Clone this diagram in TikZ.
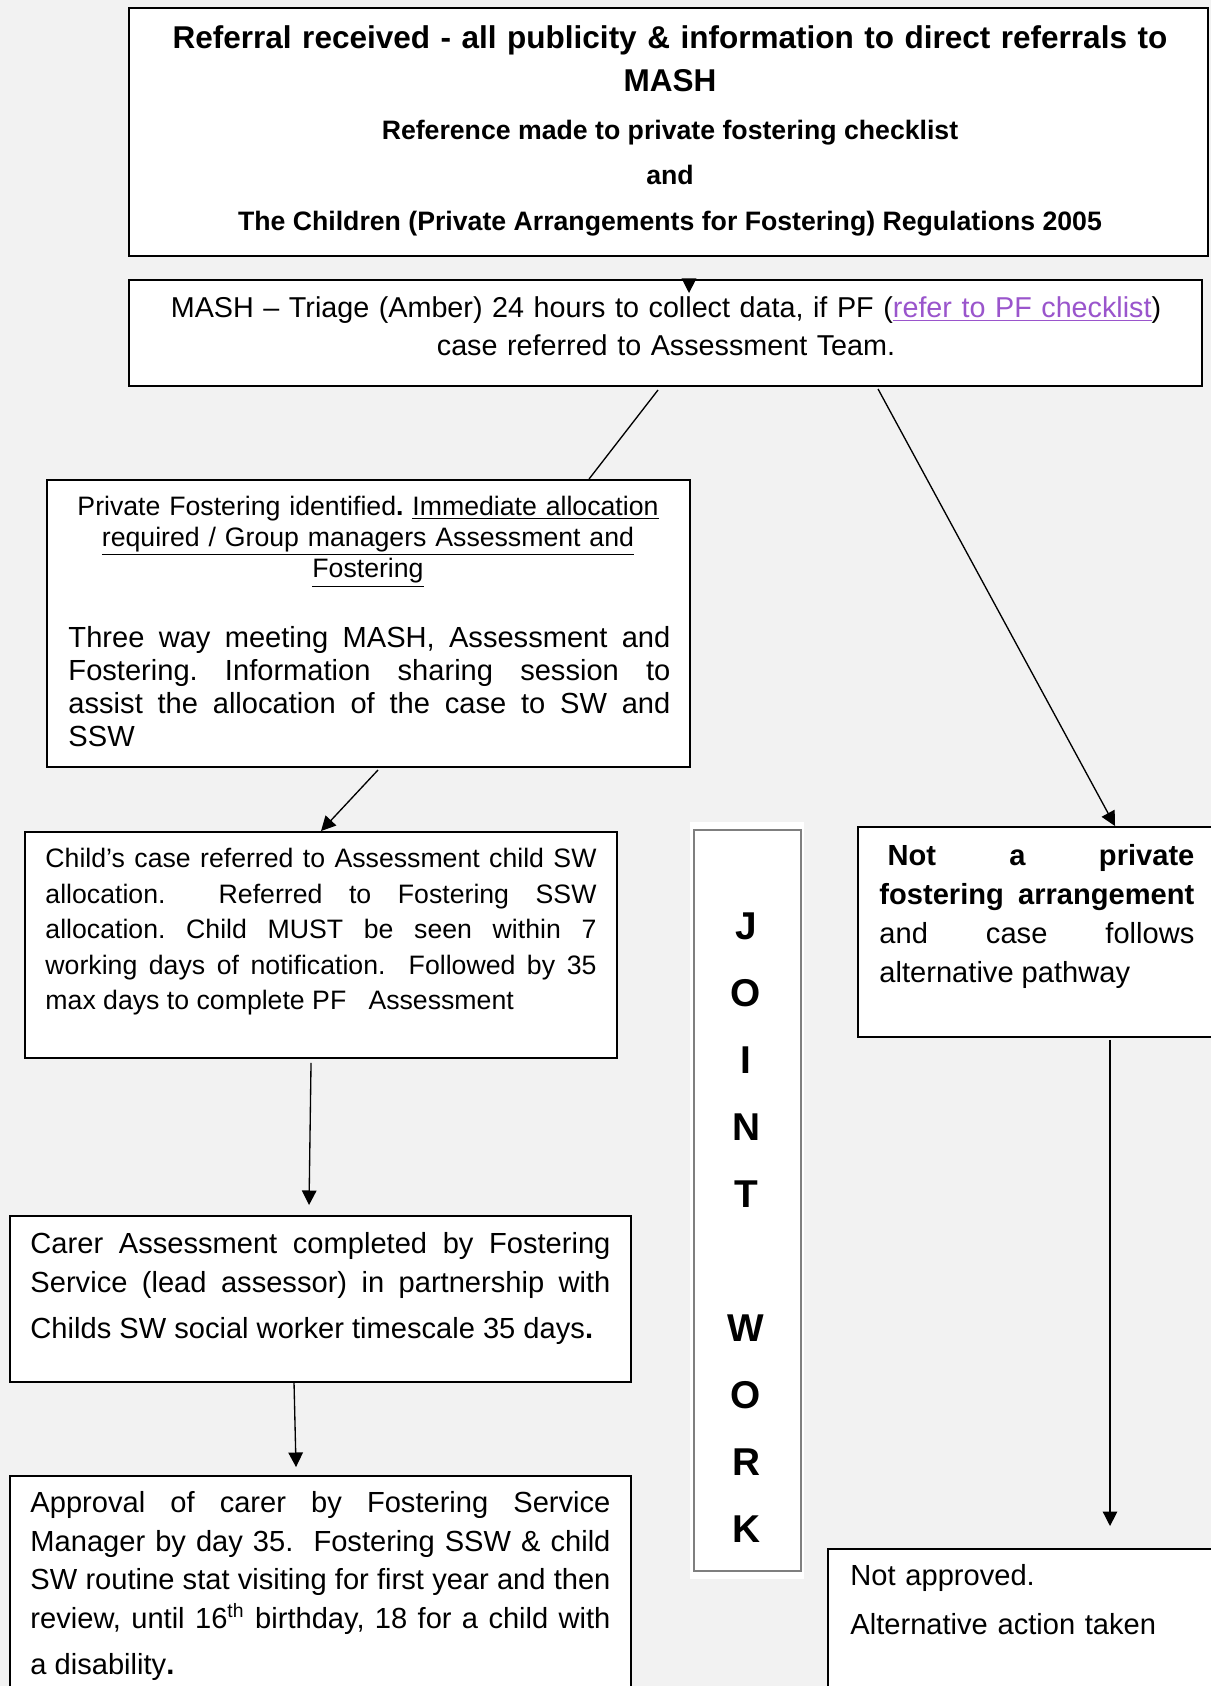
\documentclass[tikz,border=0pt]{standalone}
\usepackage{fontspec}
\setmainfont{Liberation Sans}
\usetikzlibrary{arrows.meta,calc,fit}
\definecolor{bg}{HTML}{F2F2F2}
\definecolor{linkc}{HTML}{9A55CC}
\definecolor{jwgray}{HTML}{7F7F7F}
\begin{document}
\frenchspacing
\begin{tikzpicture}[x=0.4125pt,y=-0.4125pt,
  box/.style={draw=black,line width=0.8pt,fill=white,inner sep=0pt,rectangle},
  conn/.style={line width=0.55pt},
  arr/.style={conn,-{Triangle[length=6pt,width=6pt]}},
  txt/.style={inner sep=0pt,anchor=base},
  ]
\useasboundingbox (0,0) rectangle (1211,1686);
\fill[bg] (0,0) rectangle (1211,1686);
\clip (0,0) rectangle (1211,1686);

% boxes
\node[box,fit={(129,8)(1208,256)}] (top) {};
\node[box,fit={(129,280)(1202,386)}] (mash) {};
\node[box,fit={(47,480)(690,767)}] (pfid) {};
\node[box,fit={(25,832)(617,1058)}] (child) {};
\node[box,fit={(10,1216)(631,1382)}] (carer) {};
\node[box,fit={(10,1476)(631,1700)}] (approval) {};
\node[box,fit={(858,827)(1220,1037)}] (notpf) {};
\node[box,fit={(828,1549)(1220,1700)}] (notappr) {};
\node[fill=white,inner sep=0pt,fit={(690,822)(804,1579)}] (jointbg) {};
\node[draw=jwgray,line width=0.75pt,inner sep=0pt,fit={(694,830)(801,1571)}] (joint) {};

% texts
\node[txt,text width=430pt,align=center,font=\fontsize{13}{17.9}\selectfont\bfseries] (ttl) at (670,48)
  {Referral received - all publicity \& information to direct referrals to\\MASH};
\node[txt,font=\fontsize{11}{13}\selectfont\bfseries] (ref1) at (670,139) {Reference made to private fostering checklist};
\node[txt,font=\fontsize{11}{13}\selectfont\bfseries] (ref2) at (670,184) {and};
\node[txt,font=\fontsize{11}{13}\selectfont\bfseries] (ref3) at (670,230) {The Children (Private Arrangements for Fostering) Regulations 2005};

\node[txt,text width=430pt,align=center,font=\fontsize{11.85}{15.7}\selectfont] (mashtxt) at (666,317)
  {MASH – Triage (Amber) 24 hours to collect data, if PF (\textcolor{linkc}{\underline{refer to PF checklist}})\\case referred to Assessment Team.};

\node[txt,text width=260pt,align=center,font=\fontsize{11}{12.8}\selectfont] (pf1) at (368,515)
  {Private Fostering identified\textbf{.} \underline{Immediate allocation}\\\underline{required / Group managers Assessment and}\\\underline{Fostering}};
\node[txt,anchor=base west,text width=248.3pt,align=justify,font=\fontsize{12}{13.7}\selectfont] (pf2) at (68,647)
  {Three way meeting MASH, Assessment and\linebreak Fostering. Information sharing session to\linebreak assist the allocation of the case to SW and\linebreak SSW};

\node[txt,anchor=base west,text width=227.3pt,align=justify,font=\fontsize{11}{14.65}\selectfont] (childtxt) at (45,867.5)
  {Child’s case referred to Assessment child SW\linebreak allocation.\ \ Referred to Fostering SSW\linebreak allocation. Child MUST be seen within 7\linebreak working days of notification.\ \ Followed by 35\linebreak max days to complete PF\ \ \ Assessment};

\node[txt,anchor=base west,text width=239.25pt,align=justify,font=\fontsize{12}{16.1}\selectfont] (carertxt) at (30,1253)
  {Carer Assessment completed by Fostering\linebreak Service (lead assessor) in partnership with\vadjust{\vskip 2.9pt}\linebreak Childs SW social worker timescale 35 days\textbf{.}};

\node[txt,anchor=base west,text width=239.25pt,align=justify,font=\fontsize{12}{15.95}\selectfont] (apptxt) at (30,1512.5)
  {Approval of carer by Fostering Service\linebreak Manager by day 35.\ \ Fostering SSW \& child\linebreak SW routine stat visiting for first year and then\linebreak review, until 16\textsuperscript{th} birthday, 18 for a child with\vadjust{\vskip 2.9pt}\linebreak a disability\textbf{.}};

\node[txt,anchor=base west,text width=129.9pt,align=justify,font=\fontsize{12}{16.1}\selectfont] (notpftxt) at (879,865)
  {\hspace*{0.28em}\textbf{Not a private}\linebreak\textbf{fostering arrangement}\linebreak and case follows\linebreak alternative pathway};

\node[txt,anchor=base west,text width=150pt,align=left,font=\fontsize{12}{20.2}\selectfont] (natxt) at (850,1585.7)
  {Not approved.\\Alternative action taken};

\node[txt,text width=40pt,align=center,font=\fontsize{16}{27.64}\selectfont\bfseries] (jw) at (746,939)
  {J\\O\\I\\N\\T\\\mbox{}\\W\\O\\R\\K};

% connectors
\draw[arr] ($(mash.north west)+(561,0)$) -- ($(mash.north west)+(561,14)$);
\draw[conn] ($(mash.south west)+(530,3)$) -- ($(pfid.north west)+(543,0)$);
\draw[arr] ($(mash.south west)+(750,2)$) -- ($(notpf.north west)+(258,0)$);
\draw[arr] ($(pfid.south west)+(332,2)$) -- ($(child.north west)+(297,0)$);
\draw[arr] ($(child.south west)+(287,4)$) -- ($(carer.north west)+(300,-10)$);
\draw[arr] ($(carer.south west)+(285,0)$) -- ($(approval.north west)+(287,-8)$);
\draw[arr] ($(notpf.south west)+(253,2)$) -- ($(notappr.north west)+(283,-22)$);
\end{tikzpicture}
\end{document}
